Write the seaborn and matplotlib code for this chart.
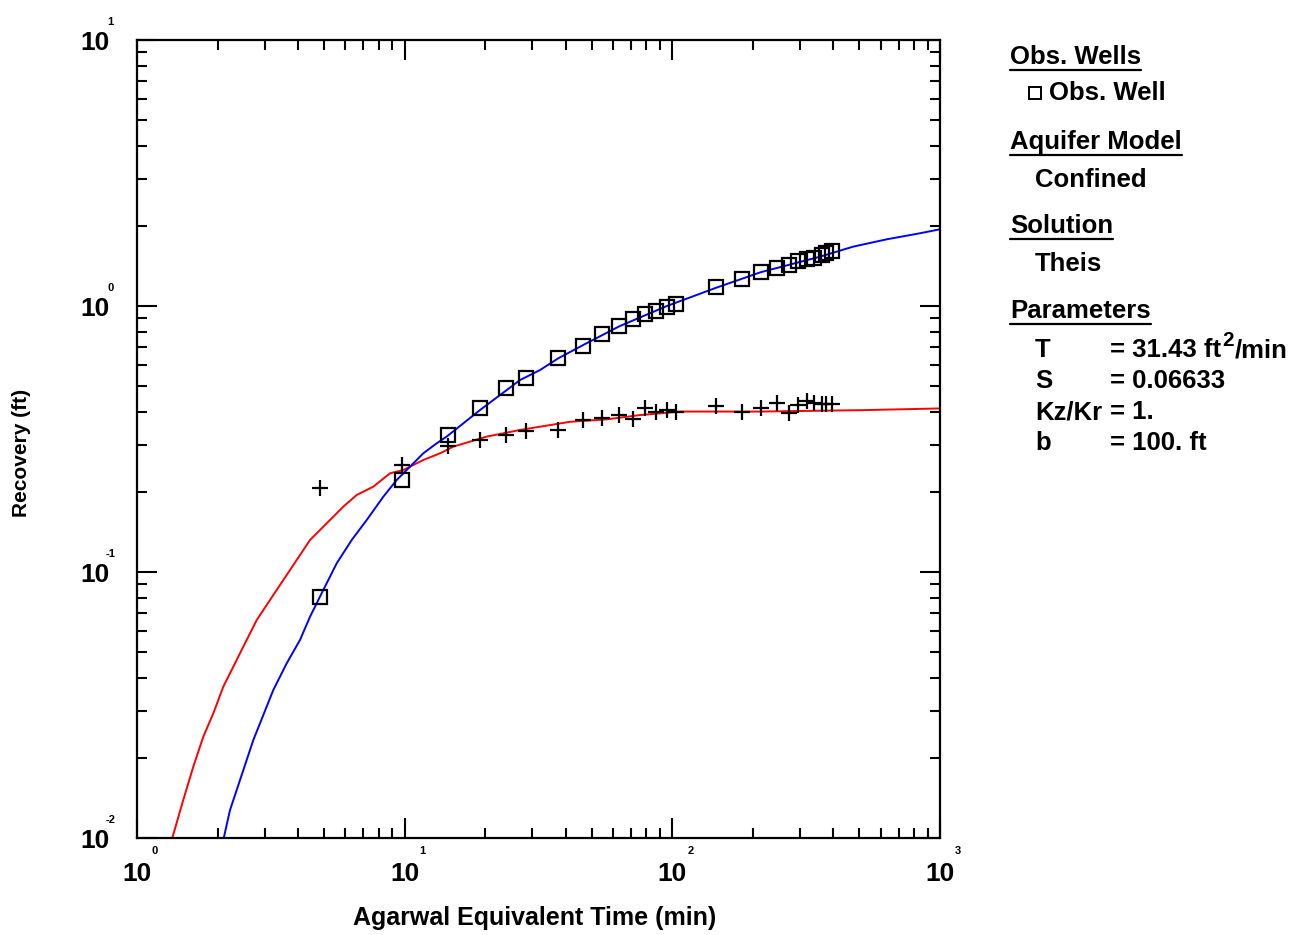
import numpy as np
import pandas as pd
import matplotlib
matplotlib.use("Agg")
import matplotlib.pyplot as plt
import seaborn as sns
from matplotlib.ticker import LogLocator, NullFormatter, FixedLocator, FixedFormatter
from matplotlib.lines import Line2D
import matplotlib.transforms as mtransforms

# ---- data -------------------------------------------------------------
# Agarwal equivalent time of each observation (min)
obs_time = [4.83, 9.77, 14.5, 19.1, 23.9, 28.4, 37.5, 46.3, 54.7, 63.4, 71.5,
            79.3, 86.9, 95.3, 103.2, 145.6, 181.6, 213.8, 246, 272, 294, 318,
            338, 361, 375, 394]
# recovery at the observation well (squares)
obs_recovery = [0.0805, 0.222, 0.327, 0.414, 0.492, 0.536, 0.636, 0.709, 0.783,
                0.839, 0.891, 0.933, 0.958, 0.989, 1.017, 1.176, 1.263, 1.346,
                1.386, 1.426, 1.476, 1.502, 1.511, 1.555, 1.578, 1.609]
# derivative of recovery (crosses)
deriv_recovery = [0.2074, 0.2525, 0.2984, 0.3134, 0.3273, 0.3398, 0.3418, 0.3726,
                  0.3782, 0.3894, 0.375, 0.4125, 0.4005, 0.4064, 0.4005, 0.4218,
                  0.4005, 0.4125, 0.4307, 0.3971, 0.4244, 0.4394, 0.4307, 0.427,
                  0.427, 0.427]

# Theis type curve (blue)
theis_time = [2.101, 2.226, 2.426, 2.720, 2.881, 3.230, 3.625, 4.064, 4.430,
              4.966, 5.573, 6.34, 7.216, 8.322, 9.338, 10.47, 11.74, 13.17,
              14.36, 19.1, 27.0, 32.0, 37.5, 46.4, 63.4, 95.5, 145, 214, 356,
              473, 632, 842, 1000]
theis_recovery = [0.00983, 0.01274, 0.01652, 0.02335, 0.02699, 0.0360, 0.04538,
                  0.05552, 0.0679, 0.0856, 0.1078, 0.1319, 0.1569, 0.1919,
                  0.2218, 0.2488, 0.2794, 0.3046, 0.323, 0.406, 0.527, 0.574,
                  0.636, 0.713, 0.839, 1.0, 1.169, 1.34, 1.532, 1.671, 1.781,
                  1.877, 1.943]

# derivative of the type curve (red)
deriv_time = [1.348, 1.489, 1.623, 1.769, 1.928, 2.101, 2.290, 2.495, 2.801,
              3.140, 3.521, 3.729, 4.43, 5.113, 5.897, 6.620, 7.635, 8.814,
              9.883, 11.74, 13.55, 15.2, 20.3, 27.0, 41.5, 57.0, 75.7, 107,
              213, 516, 1000]
deriv_curve = [0.00983, 0.0139, 0.01854, 0.02403, 0.02943, 0.03705, 0.04406,
               0.05238, 0.0660, 0.0785, 0.0933, 0.1017, 0.1319, 0.1524, 0.1760,
               0.1948, 0.2093, 0.2350, 0.2417, 0.2637, 0.2794, 0.296, 0.323,
               0.342, 0.367, 0.375, 0.389, 0.401, 0.401, 0.406, 0.412]

decades = [1, 10, 100, 1000]
decade_exp = ["0", "1", "2", "3"]
y_decades = [0.01, 0.1, 1, 10]
y_decade_exp = ["-2", "-1", "0", "1"]

panel_rows = [
    ("Obs. Wells", "header"),
    ("Obs. Well", "well"),
    ("Aquifer Model", "header"),
    ("Confined", "item"),
    ("Solution", "header"),
    ("Theis", "item"),
    ("Parameters", "header"),
]
param_names = ["T", "S", "Kz/Kr", "b"]
param_values = ["= 31.43 ft", "= 0.06633", "= 1.", "= 100. ft"]

# ---- figure -----------------------------------------------------------
sns.set_theme(style="white")
FONT = ["Liberation Sans", "DejaVu Sans"]
plt.rcParams["font.family"] = FONT
plt.rcParams["font.weight"] = "bold"
for key in ("text.color", "axes.labelcolor", "xtick.color", "ytick.color"):
    plt.rcParams[key] = "black"

W, H = 1291, 935
fig = plt.figure(figsize=(W / 100, H / 100), dpi=100, facecolor="white")
L, R, T, B = 137, 940, 40, 838
ax = fig.add_axes([L / W, 1 - B / H, (R - L) / W, (B - T) / H])
ax.set_facecolor("white")

curves = pd.DataFrame({"t": theis_time, "s": theis_recovery})
dcurve = pd.DataFrame({"t": deriv_time, "s": deriv_curve})
obs = pd.DataFrame({"t": obs_time, "s": obs_recovery, "d": deriv_recovery})

sns.lineplot(data=dcurve, x="t", y="s", ax=ax, color="#ff0000", lw=1.4,
             estimator=None, sort=False)
sns.lineplot(data=curves, x="t", y="s", ax=ax, color="#0000ff", lw=1.4,
             estimator=None, sort=False)
sns.lineplot(data=obs, x="t", y="s", ax=ax, estimator=None, sort=False,
             linestyle="none", marker="s", markersize=10,
             markerfacecolor="none", markeredgecolor="black", markeredgewidth=1.6)
sns.lineplot(data=obs, x="t", y="d", ax=ax, estimator=None, sort=False,
             linestyle="none", marker="+", markersize=11, color="black",
             markeredgecolor="black", markeredgewidth=1.6)

ax.set_xscale("log")
ax.set_yscale("log")
ax.set_xlim(1, 1000)
ax.set_ylim(0.01, 10)
ax.set_xlabel("")
ax.set_ylabel("")

for axis, major in ((ax.xaxis, decades), (ax.yaxis, y_decades)):
    axis.set_major_locator(FixedLocator(major))
    axis.set_major_formatter(FixedFormatter(["10"] * len(major)))
    axis.set_minor_locator(LogLocator(base=10, subs=np.arange(2, 10)))
    axis.set_minor_formatter(NullFormatter())

ax.tick_params(which="both", direction="in", width=1.5, colors="black",
               top=True, right=True, bottom=True, left=True)
ax.tick_params(which="major", length=14.5, labelsize=19)
ax.tick_params(which="minor", length=7.2)
ax.tick_params(axis="x", which="major", pad=17)
ax.tick_params(axis="y", which="major", pad=20)
for lab in ax.get_xticklabels() + ax.get_yticklabels():
    lab.set_fontweight("bold")
for sp in ax.spines.values():
    sp.set_color("black")
    sp.set_linewidth(1.6)

# small exponents next to each "10"
xt = mtransforms.blended_transform_factory(ax.transData, ax.transAxes)
for v, e in zip(decades, decade_exp):
    tr = mtransforms.offset_copy(xt, fig=fig, x=13, y=-9.5, units="points")
    ax.text(v, 0, e, transform=tr, fontsize=8, fontweight="bold",
            ha="center", va="center", clip_on=False)
yt = mtransforms.blended_transform_factory(ax.transAxes, ax.transData)
for v, e in zip(y_decades, y_decade_exp):
    tr = mtransforms.offset_copy(yt, fig=fig, x=-19, y=13, units="points")
    ax.text(0, v, e, transform=tr, fontsize=8, fontweight="bold",
            ha="center", va="center", clip_on=False)

fig.text(535 / W, 1 - 918 / H, "Agarwal Equivalent Time (min)", fontsize=18,
         fontweight="bold", ha="center", va="center")
fig.text(22 / W, 1 - 453 / H, "Recovery (ft)", fontsize=15, fontweight="bold",
         ha="center", va="center", rotation=90)


def px(x, y):
    return x / W, 1 - y / H


# ---- side panel -------------------------------------------------------
PFS = 18.5
row_y = [57, 93, 142, 180, 226, 264, 311]
header_texts = []
for (label, kind), yy in zip(panel_rows, row_y):
    if kind == "header":
        t = fig.text(*px(1010, yy), label, fontsize=PFS, fontweight="bold",
                     ha="left", va="center")
        header_texts.append(t)
    elif kind == "well":
        fig.add_artist(Line2D([1035 / W], [1 - yy / H], marker="s",
                              markersize=8, markerfacecolor="none",
                              markeredgecolor="black", markeredgewidth=1.4,
                              linestyle="none", transform=fig.transFigure))
        fig.text(*px(1049, yy), label, fontsize=PFS, fontweight="bold",
                 ha="left", va="center")
    else:
        fig.text(*px(1035, yy), label, fontsize=PFS, fontweight="bold",
                 ha="left", va="center")

param_y = [350, 381, 412, 443]
param_texts = []
for name, val, yy in zip(param_names, param_values, param_y):
    fig.text(*px(1035, yy), name, fontsize=PFS, fontweight="bold",
             ha="left", va="center")
    param_texts.append(fig.text(*px(1110, yy), val, fontsize=PFS,
                                fontweight="bold", ha="left", va="center"))

fig.canvas.draw()
renderer = fig.canvas.get_renderer()
for t in header_texts:
    bb = t.get_window_extent(renderer)
    yline = bb.y0 - 1
    fig.add_artist(Line2D([bb.x0 / W, bb.x1 / W], [yline / H, yline / H],
                          color="black", lw=1.6, transform=fig.transFigure))

# ft²/min on the transmissivity row
bb = param_texts[0].get_window_extent(renderer)
sup = fig.text((bb.x1 + 1) / W, 1 - 340 / H, "2", fontsize=15,
               fontweight="bold", ha="left", va="center")
fig.canvas.draw()
bb2 = sup.get_window_extent(renderer)
fig.text((bb2.x1 + 1) / W, 1 - 350 / H, "/min", fontsize=PFS,
         fontweight="bold", ha="left", va="center")

fig.savefig("out.png", dpi=100, facecolor="white")
